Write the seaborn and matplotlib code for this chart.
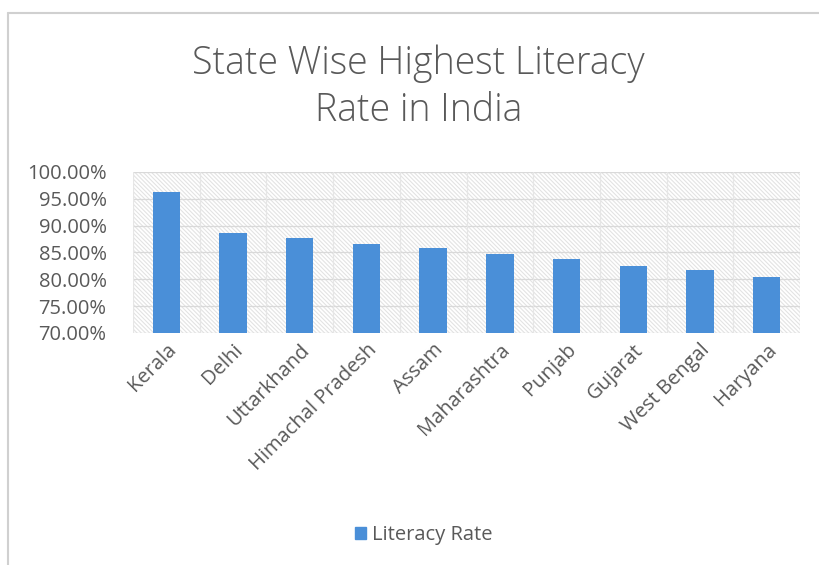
import matplotlib
matplotlib.use("Agg")
import matplotlib.pyplot as plt
import matplotlib.patches as mpatches
from matplotlib.lines import Line2D
from matplotlib.ticker import FuncFormatter
import seaborn as sns
import pandas as pd

states = ["Kerala", "Delhi", "Uttarkhand", "Himachal Pradesh", "Assam",
          "Maharashtra", "Punjab", "Gujarat", "West Bengal", "Haryana"]
literacy_rate = [96.3, 88.7, 87.7, 86.5, 85.8, 84.8, 83.7, 82.5, 81.7, 80.4]
y_ticks = [70, 75, 80, 85, 90, 95, 100]

sns.set_theme(style="white")
plt.rcParams["font.family"] = ["Open Sans", "DejaVu Sans"]
plt.rcParams["hatch.color"] = "#e3e3e3"
plt.rcParams["hatch.linewidth"] = 0.8

df = pd.DataFrame({"State": states, "Literacy Rate": literacy_rate})
bar_color = "#4a8fd8"
text_color = "#595959"

fig = plt.figure(figsize=(8.19, 5.65), dpi=100)
ax = fig.add_axes([133 / 819, 1 - 333 / 565, 667 / 819, 161 / 565])

# hatched plot-area background
bg = mpatches.Rectangle((0, 0), 1, 1, transform=ax.transAxes, facecolor="white",
                        edgecolor="#e3e3e3", hatch="\\\\\\\\\\\\\\\\", linewidth=0, zorder=0)
ax.add_patch(bg)

sns.barplot(data=df, x="State", y="Literacy Rate", color=bar_color, width=0.41,
            saturation=1, ax=ax, zorder=3)
for p in ax.patches:
    if p is not bg:
        p.set_edgecolor("none")

ax.set_ylim(70, 100)
ax.set_xlim(-0.5, len(states) - 0.5)
ax.set_yticks(y_ticks)
ax.yaxis.set_major_formatter(FuncFormatter(lambda v, _: f"{v:.2f}%"))
ax.set_facecolor("none")

# gridlines: horizontal at each tick, vertical between categories
for v in y_ticks:
    ax.axhline(v, color="#d9d9d9", linewidth=0.9, zorder=1)
for i in range(len(states) + 1):
    ax.axvline(i - 0.5, color="#e6e6e6", linewidth=0.9, zorder=1)

for s in ax.spines.values():
    s.set_visible(False)
ax.set_xlabel("")
ax.set_ylabel("")
ax.tick_params(axis="both", length=0, colors=text_color)
ax.tick_params(axis="y", labelsize=14.5, pad=19)
ax.tick_params(axis="x", labelsize=14.5, pad=5)
plt.setp(ax.get_xticklabels(), rotation=45, ha="right", va="top", rotation_mode="anchor")
for lbl in ax.get_yticklabels() + ax.get_xticklabels():
    lbl.set_color(text_color)

fig.text(0.511, 1 - 64 / 565, "State Wise Highest Literacy", ha="center", va="center",
         fontsize=27, color=text_color, fontweight="light")
fig.text(0.511, 1 - 111 / 565, "Rate in India", ha="center", va="center",
         fontsize=27, color=text_color, fontweight="light")

# legend
handle = mpatches.Patch(color=bar_color, label="Literacy Rate")
fig.legend(handles=[handle], loc="center", bbox_to_anchor=(0.517, 1 - 535 / 565),
           frameon=False, fontsize=14.5, handlelength=0.55, handleheight=0.55,
           handletextpad=0.3, labelcolor=text_color)

# chart border
fig.add_artist(Line2D([8 / 819, 8 / 819], [0, 1 - 13 / 565], transform=fig.transFigure,
                      color="#d0d0d0", linewidth=1.5))
fig.add_artist(Line2D([8 / 819, 1], [1 - 13 / 565, 1 - 13 / 565], transform=fig.transFigure,
                      color="#d0d0d0", linewidth=1.5))

fig.savefig("out.png", dpi=100)
